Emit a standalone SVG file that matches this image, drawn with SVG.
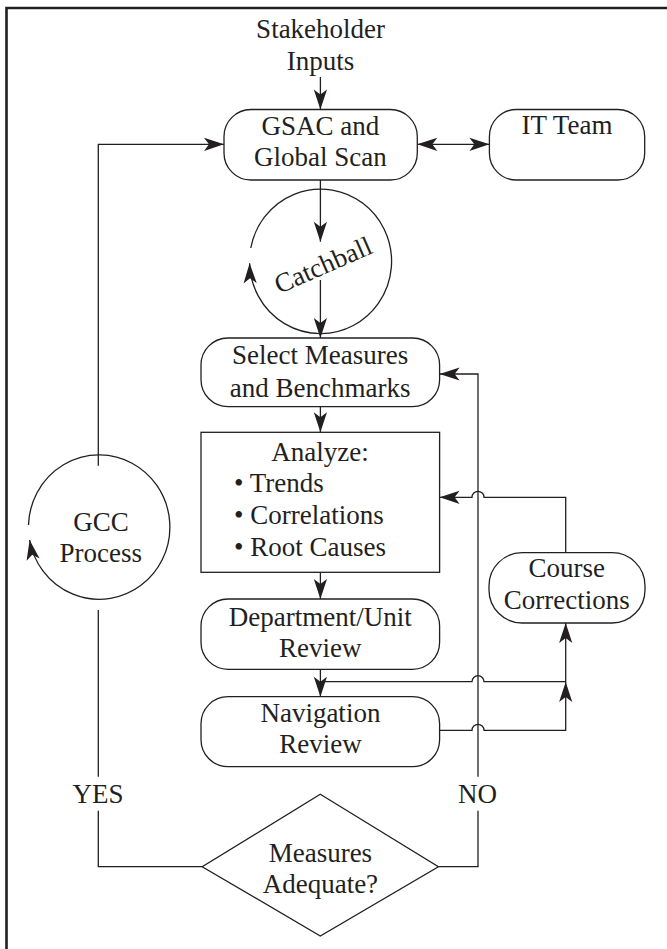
<svg xmlns="http://www.w3.org/2000/svg" width="667" height="949" viewBox="0 0 667 949">
  <style>
    .box { fill: #ffffff; stroke: #231f20; stroke-width: 1.3; }
    .ln { fill: none; stroke: #231f20; stroke-width: 1.3; }
    .arr { marker-end: url(#head); }
    .lbl { font-family: "Liberation Serif", "Times New Roman", serif; font-size: 27px; fill: #231f20; text-anchor: middle; }
    .lft { text-anchor: start; }
    .frame { fill: none; stroke: #231f20; stroke-width: 2.6; }
  </style>
  <defs>
    <marker id="head" markerUnits="userSpaceOnUse" markerWidth="24" markerHeight="16" viewBox="-21 -8 22 16" refX="0" refY="0" orient="auto">
      <path d="M0,0 L-20,-6.6 L-15,0 L-20,6.6 Z" fill="#231f20"/>
    </marker>
    <marker id="headStart" markerUnits="userSpaceOnUse" markerWidth="24" markerHeight="16" viewBox="-1 -8 22 16" refX="0" refY="0" orient="auto">
      <path d="M0,0 L20,-6.6 L15,0 L20,6.6 Z" fill="#231f20"/>
    </marker>
  </defs>

  <!-- outer frame (top and left edges) -->
  <path class="frame" d="M6.5,949 V8 H667"/>

  <!-- connectors -->
  <g id="connectors">
    <path class="ln arr" d="M320.4,77 V109.5"/>
    <path class="ln" d="M417.3,144.3 H489.4" marker-start="url(#headStart)" marker-end="url(#head)"/>
    <path class="ln arr" d="M98.3,465.7 V144.3 H224"/>
    <path class="ln" d="M98.3,610 V776.7"/>
    <path class="ln" d="M98.3,810.7 V866.7 H202.2"/>
    <path class="ln arr" d="M320.4,180 V241.7"/>
    <path class="ln arr" d="M320.4,280 V338"/>
    <path class="ln arr" d="M320.4,406.7 V432.3"/>
    <path class="ln arr" d="M320.4,572.3 V599"/>
    <path class="ln arr" d="M320.4,669.3 V696.7"/>
    <!-- department review branch to course corrections -->
    <path class="ln arr" d="M320.4,681.7 H472 A6,6 0 0 1 484,681.7 H565.7 V623"/>
    <!-- navigation review branch -->
    <path class="ln arr" d="M439.6,730.3 H472 A6,6 0 0 1 484,730.3 H565.7 V682"/>
    <!-- course corrections back to analyze -->
    <path class="ln arr" d="M565.7,552.7 V497.3 H484 A6,6 0 0 0 472,497.3 H439.6"/>
    <!-- NO branch back to select measures -->
    <path class="ln" d="M438.4,866.7 H478 V810.7"/>
    <path class="ln arr" d="M478,776.7 V374 H439.6"/>
  </g>

  <g id="stakeholder-inputs">
    <text class="lbl" x="320.6" y="38.3">Stakeholder</text>
    <text class="lbl" x="320.6" y="69.5">Inputs</text>
  </g>

  <g id="gsac">
    <rect class="box" x="224" y="109.5" width="193.3" height="70.5" rx="27"/>
    <text class="lbl" x="320.4" y="135">GSAC and</text>
    <text class="lbl" x="320.4" y="166">Global Scan</text>
  </g>

  <g id="it-team">
    <rect class="box" x="489.4" y="109.5" width="155.3" height="70.5" rx="27"/>
    <text class="lbl" x="567" y="134.3">IT Team</text>
  </g>

  <g id="catchball">
    <path class="ln arr" d="M250.8,248 A71,72.3 0 1 1 249.6,263.3"/>
    <text class="lbl" transform="translate(323,265) rotate(-23.5)" x="0" y="9">Catchball</text>
  </g>

  <g id="select-measures">
    <rect class="box" x="201" y="338" width="238.6" height="68.7" rx="27"/>
    <text class="lbl" x="320.2" y="364">Select Measures</text>
    <text class="lbl" x="320.2" y="396.5">and Benchmarks</text>
  </g>

  <g id="analyze">
    <rect class="box" x="201" y="432.3" width="238.6" height="140"/>
    <text class="lbl" x="320" y="461">Analyze:</text>
    <text class="lbl lft" x="234" y="492.3">• Trends</text>
    <text class="lbl lft" x="234" y="524.3">• Correlations</text>
    <text class="lbl lft" x="234" y="556">• Root Causes</text>
  </g>

  <g id="department-review">
    <rect class="box" x="201" y="599" width="238.6" height="70.3" rx="27"/>
    <text class="lbl" x="320.2" y="625.5">Department/Unit</text>
    <text class="lbl" x="320.2" y="656.7">Review</text>
  </g>

  <g id="navigation-review">
    <rect class="box" x="201" y="696.7" width="238.6" height="70" rx="27"/>
    <text class="lbl" x="320.4" y="721.7">Navigation</text>
    <text class="lbl" x="320.4" y="753.3">Review</text>
  </g>

  <g id="course-corrections">
    <rect class="box" x="489" y="552.7" width="156" height="70.3" rx="33"/>
    <text class="lbl" x="566.8" y="577.3">Course</text>
    <text class="lbl" x="566.8" y="609.3">Corrections</text>
  </g>

  <g id="measures-adequate">
    <polygon class="box" points="320.3,794.3 438.4,866.7 320.3,936 202.2,866.7"/>
    <text class="lbl" x="320.4" y="861.7">Measures</text>
    <text class="lbl" x="320.4" y="893.3">Adequate?</text>
  </g>

  <g id="gcc-process">
    <path class="ln arr" d="M28.5,525 A70.7,72.2 0 1 1 29.6,540"/>
    <text class="lbl" x="101" y="531">GCC</text>
    <text class="lbl" x="100.8" y="562.3">Process</text>
  </g>

  <g id="decision-labels">
    <text class="lbl" x="98" y="803.3">YES</text>
    <text class="lbl" x="477.5" y="803.3">NO</text>
  </g>
</svg>
